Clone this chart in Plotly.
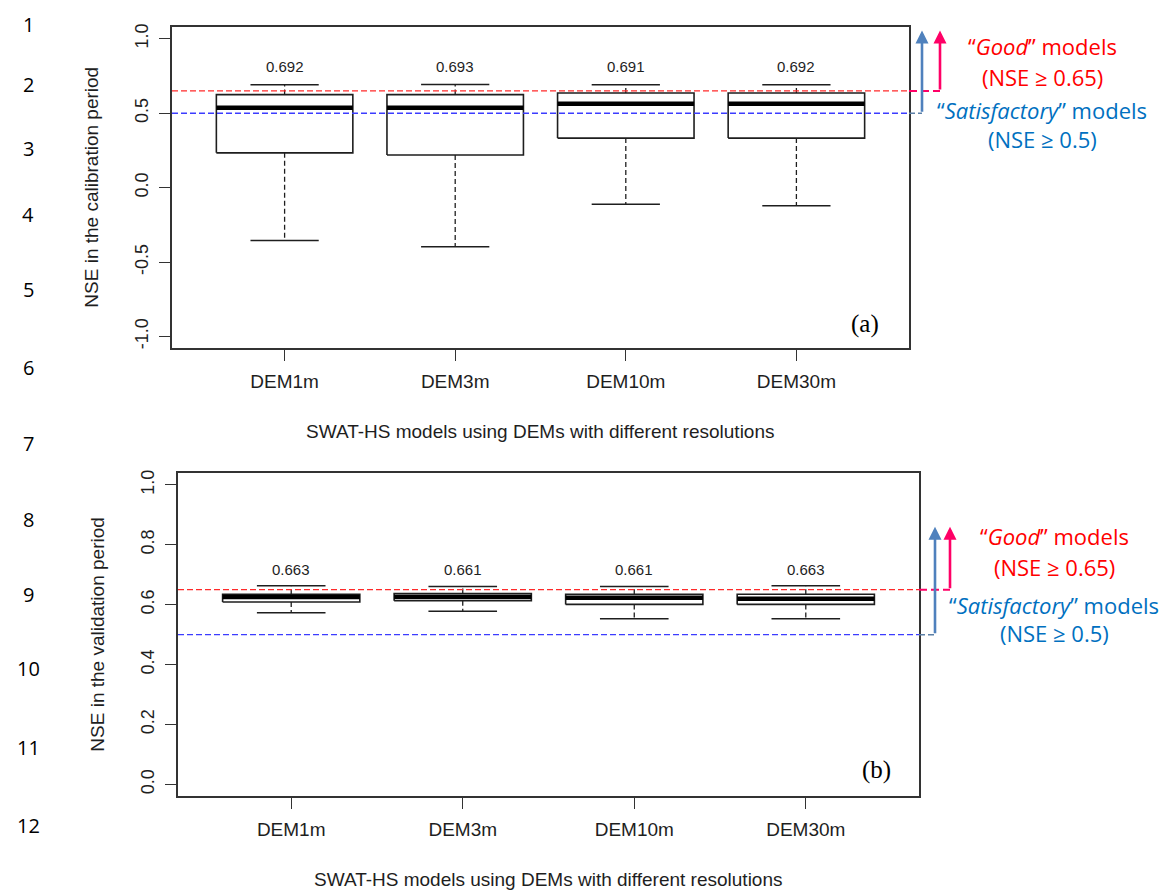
import plotly.graph_objects as go

# ---- data -------------------------------------------------------------
categories = ["DEM1m", "DEM3m", "DEM10m", "DEM30m"]

# calibration period NSE summary (whisker low, Q1, median, Q3, whisker high)
cal_low = [-0.355, -0.397, -0.112, -0.121]
cal_q1 = [0.234, 0.219, 0.333, 0.333]
cal_med = [0.536, 0.536, 0.563, 0.563]
cal_q3 = [0.625, 0.625, 0.636, 0.636]
cal_high = [0.692, 0.693, 0.691, 0.692]

# validation period NSE summary
val_low = [0.573, 0.578, 0.553, 0.553]
val_q1 = [0.609, 0.613, 0.601, 0.601]
val_med = [0.626, 0.626, 0.623, 0.620]
val_q3 = [0.635, 0.637, 0.635, 0.635]
val_high = [0.663, 0.661, 0.661, 0.663]

good_threshold = 0.65
satisfactory_threshold = 0.5

cal_ticks = [-1.0, -0.5, 0.0, 0.5, 1.0]
cal_ticktext = ["-1.0", "-0.5", "0.0", "0.5", "1.0"]
val_ticks = [0.0, 0.2, 0.4, 0.6, 0.8, 1.0]
val_ticktext = ["0.0", "0.2", "0.4", "0.6", "0.8", "1.0"]

line_numbers = ["1", "2", "3", "4", "5", "6", "7", "8", "9", "10", "11", "12"]
line_number_y = [22, 82, 146, 212, 288, 366, 442, 519, 594, 668, 748, 826]

# ---- layout helpers ---------------------------------------------------
W, H = 1173, 891


def px(x):
    return x / W


def py(y):
    return 1 - y / H


AX_FONT = "Liberation Sans, Arial, sans-serif"
INK = "#1e1e1e"
FRAME = "#333333"
BOX_W = 0.4   # half width of a box
CAP_W = 0.2   # half width of a whisker cap

fig = go.Figure()


def add_boxes(xa, ya, low, q1, med, q3, high):
    bx, by, mx, my, wx, wy, cx, cy = [], [], [], [], [], [], [], []
    for i in range(len(categories)):
        x = i + 1
        bx += [x - BOX_W, x + BOX_W, x + BOX_W, x - BOX_W, x - BOX_W, None]
        by += [q1[i], q1[i], q3[i], q3[i], q1[i], None]
        mx += [x - BOX_W, x + BOX_W, None]
        my += [med[i], med[i], None]
        wx += [x, x, None, x, x, None]
        wy += [q3[i], high[i], None, q1[i], low[i], None]
        cx += [x - CAP_W, x + CAP_W, None, x - CAP_W, x + CAP_W, None]
        cy += [high[i], high[i], None, low[i], low[i], None]
    common = dict(xaxis=xa, yaxis=ya, mode="lines", hoverinfo="skip", showlegend=False)
    fig.add_trace(go.Scatter(x=wx, y=wy, line=dict(color=INK, width=1.3, dash="5px,3px"), **common))
    fig.add_trace(go.Scatter(x=cx, y=cy, line=dict(color=INK, width=1.5), **common))
    fig.add_trace(go.Scatter(x=bx, y=by, line=dict(color=INK, width=1.6), **common))
    fig.add_trace(go.Scatter(x=mx, y=my, line=dict(color="#000000", width=4.5), **common))


def add_thresholds(xa, ya):
    xs = [0.34, 4.66]
    common = dict(xaxis=xa, yaxis=ya, mode="lines", hoverinfo="skip", showlegend=False)
    fig.add_trace(go.Scatter(x=xs, y=[good_threshold] * 2,
                             line=dict(color="#ff2a2a", width=1.3, dash="6px,3px"), **common))
    fig.add_trace(go.Scatter(x=xs, y=[satisfactory_threshold] * 2,
                             line=dict(color="#3c3cff", width=1.3, dash="6px,3px"), **common))


add_boxes("x", "y", cal_low, cal_q1, cal_med, cal_q3, cal_high)
add_thresholds("x", "y")
add_boxes("x2", "y2", val_low, val_q1, val_med, val_q3, val_high)
add_thresholds("x2", "y2")

annotations = []


def label(x, y, text, size, color, family, angle=0):
    annotations.append(dict(x=px(x), y=py(y), xref="paper", yref="paper", text=text,
                            textangle=angle, showarrow=False, xanchor="center",
                            yanchor="middle", font=dict(family=family, size=size, color=color)))


# maximum value labels above upper whiskers
for xref, yref, highs, shift in (("x", "y", cal_high, 8), ("x2", "y2", val_high, 6)):
    for i, v in enumerate(highs):
        annotations.append(dict(x=i + 1, y=v, xref=xref, yref=yref, text=f"{v:.3f}",
                                showarrow=False, xanchor="center", yanchor="bottom",
                                yshift=shift, font=dict(family=AX_FONT, size=15, color=INK)))

# panel geometry (pixels): left, right, top, bottom
panels = [
    dict(l=172, r=909, t=24, b=347, ytitle="NSE in the calibration period",
         tag="(a)", tag_xy=(865, 322), blue_x=922, red_x=940, tip=1.055, text_x=1042,
         text_y=[43, 74, 107, 137], ticks=cal_ticks, ticktext=cal_ticktext, rng=[-1.08, 1.08]),
    dict(l=178, r=919, t=472, b=797, ytitle="NSE in the validation period",
         tag="(b)", tag_xy=(876, 770), blue_x=935, red_x=950, tip=0.86, text_x=1054,
         text_y=[535, 567, 605, 633], ticks=val_ticks, ticktext=val_ticktext, rng=[-0.04, 1.04]),
]

shapes = []
axes = {}
for k, p in enumerate(panels):
    sfx = "" if k == 0 else str(k + 1)
    yref = "y" + sfx
    axes["xaxis" + sfx] = dict(
        domain=[px(p["l"]), px(p["r"])], range=[0.34, 4.66], anchor=yref,
        tickvals=[1, 2, 3, 4], ticktext=categories, ticks="outside", ticklen=11,
        tickwidth=1.4, tickcolor=FRAME, showline=True, linecolor=FRAME, linewidth=1.5,
        mirror=True, showgrid=False, zeroline=False, ticklabelstandoff=4,
        tickfont=dict(family=AX_FONT, size=19, color=INK))
    axes["yaxis" + sfx] = dict(
        domain=[py(p["b"]), py(p["t"])], range=p["rng"], anchor="x" + sfx,
        tickvals=p["ticks"], ticktext=p["ticktext"], tickangle=-90, ticks="outside",
        ticklen=11, tickwidth=1.4, tickcolor=FRAME, showline=True, linecolor=FRAME,
        linewidth=1.5, mirror=True, showgrid=False, zeroline=False, ticklabelstandoff=4,
        tickfont=dict(family=AX_FONT, size=18, color=INK))

    # axis titles
    label(p["l"] - 80, (p["t"] + p["b"]) / 2, p["ytitle"], 19, INK, AX_FONT, angle=-90)
    label((p["l"] + p["r"]) / 2, p["b"] + 83,
          "SWAT-HS models using DEMs with different resolutions", 19, INK, AX_FONT)
    # panel tag
    label(p["tag_xy"][0], p["tag_xy"][1], p["tag"], 25, "#000000", "Liberation Serif, serif")

    # connectors from the threshold lines to the arrows
    shapes.append(dict(type="line", xref="paper", yref=yref, x0=px(p["r"]), x1=px(p["red_x"]),
                       y0=good_threshold, y1=good_threshold,
                       line=dict(color="#ff0066", width=2, dash="8px,4px")))
    shapes.append(dict(type="line", xref="paper", yref=yref, x0=px(p["r"]), x1=px(p["blue_x"]),
                       y0=satisfactory_threshold, y1=satisfactory_threshold,
                       line=dict(color="#5b7fa6", width=1.5, dash="6px,3px")))
    # arrows pointing upward from each threshold
    for ax_x, base, col in ((p["blue_x"], satisfactory_threshold, "#4f81bd"),
                            (p["red_x"], good_threshold, "#ff0066")):
        annotations.append(dict(x=px(ax_x), y=p["tip"], xref="paper", yref=yref,
                                ax=0, ay=base, axref="pixel", ayref=yref, text="",
                                showarrow=True, arrowhead=2, arrowsize=1, arrowwidth=2.6,
                                arrowcolor=col))
    # threshold descriptions
    red, blue = "#ff0000", "#0070c0"
    txt = [("\u201c<i>Good</i>\u201d models", red), ("(NSE \u2265 0.65)", red),
           ("\u201c<i>Satisfactory</i>\u201d models", blue), ("(NSE \u2265 0.5)", blue)]
    for (t, c), ty in zip(txt, p["text_y"]):
        label(p["text_x"], ty, t, 22, c, "Open Sans, sans-serif")

# manuscript line numbers down the left margin
for n, y in zip(line_numbers, line_number_y):
    label(28, y, n, 20, "#000000", "Open Sans, sans-serif")

fig.update_layout(
    width=W, height=H, margin=dict(l=0, r=0, t=0, b=0),
    paper_bgcolor="white", plot_bgcolor="white",
    annotations=annotations, shapes=shapes, showlegend=False, **axes)

fig.write_html("out.html")
